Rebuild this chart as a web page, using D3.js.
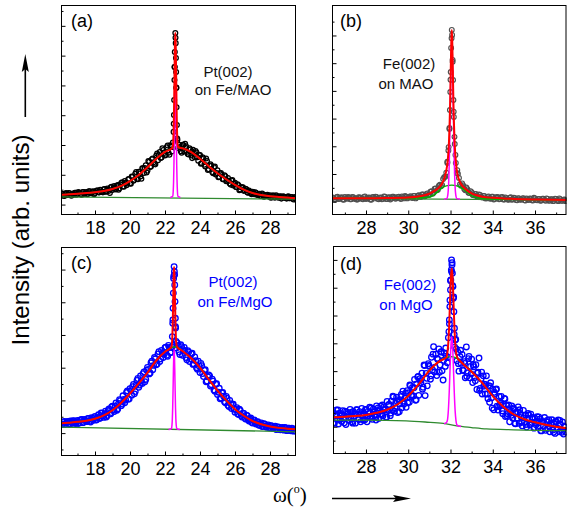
<!DOCTYPE html>
<html>
<head>
<meta charset="utf-8">
<script src="https://cdn.jsdelivr.net/npm/d3@7"></script>
<style>
  body { margin: 0; background: #fff; }
  svg { display: block; }
</style>
</head>
<body>
<script>
'use strict';

var SANS = '"Liberation Sans", Arial, Helvetica, sans-serif';
var SERIF = '"Liberation Serif", "Times New Roman", serif';

// ---- (a) Pt(002) on Fe/MAO : two interleaved scans, step 0.1
var scanStartA = 16.1, scanStepA = 0.1;
var countsA = [36,30,36,32,39,33,36,33,40,36,
  40,34,42,36,42,36,45,38,45,39,
  47,41,50,42,51,43,54,46,58,49,
  62,51,66,55,72,61,79,65,85,71,
  94,80,103,86,110,94,122,106,132,114,
  144,128,155,137,165,149,176,158,183,165,
  192,174,199,178,271,560,222,201,179,201,
  178,196,170,189,165,184,159,175,147,166,
  139,155,128,146,119,135,109,125,101,115,
  93,106,85,98,78,89,71,81,64,73,
  58,65,51,58,46,53,41,47,38,43,
  35,40,32,36,29,34,28,32,27,31,
  25,30,24,28,23,28,23,26,22,26,
  21,25,20,24,20];
var scanStartA2 = 16.15, scanStepA2 = 0.1;
var countsA2 = [35,29,39,33,38,30,36,40,33,42,
  35,33,42,39,35,45,39,43,35,45,
  47,41,45,41,52,44,50,39,60,55,
  52,63,50,67,75,60,73,71,86,70,
  93,83,109,85,104,87,122,123,108,146,
  126,152,142,135,171,166,156,189,173,167,
  198,167,194,208,462,393,190,193,174,200,
  204,177,168,185,156,174,180,159,166,137,
  159,134,155,116,131,130,105,128,106,92,
  105,99,85,95,79,80,67,82,70,59,
  68,48,58,58,48,51,40,43,35,41,
  41,33,35,29,37,26,31,33,28,23,
  30,24,31,25,27,20,28,25,20,28,
  21,25,17,25];
var peakOmegaA = [22.49,22.511,22.524,22.539,22.548,22.56,22.59,22.612,22.625,22.636,22.647,22.662,22.68,22.707];
var peakCountsA = [244,301,351,418,462,512,576,542,492,445,391,327,267,217];
var fitTotalA = [[16.1,33],[16.5,34.5],[17,36.5],[17.5,38.5],[18,41.5],[18.5,45.5],[19,52.5],[19.5,63],[20,79],[20.5,99],[21,125],[21.5,154],[22,177],[22.4,189],[22.44,194],[22.47,212],[22.49,243],[22.51,298],[22.53,378],[22.55,470],[22.57,546],[22.59,576],[22.61,546],[22.63,470],[22.65,378],[22.67,298],[22.69,243],[22.71,212],[22.74,195],[22.8,191.5],[23,189],[23.5,176],[24,154],[24.5,129],[25,105],[25.5,85],[26,66],[26.5,50],[27,39],[27.5,32],[28,28],[28.5,25.5],[29,23.5],[29.5,21.5]];
var fitBroadA = [[16.1,33],[16.5,34.5],[17,36.5],[17.5,38.5],[18,41.5],[18.5,45.5],[19,52.5],[19.5,63],[20,79],[20.5,99],[21,125],[21.5,154],[22,177],[22.3,186.5],[22.6,192],[22.8,191.5],[23,189],[23.5,176],[24,154],[24.5,129],[25,105],[25.5,85],[26,66],[26.5,50],[27,39],[27.5,32],[28,28],[28.5,25.5],[29,23.5],[29.5,21.5]];
var fitNarrowA = [[22.3,24],[22.44,28],[22.47,45],[22.49,76],[22.51,131],[22.53,211],[22.55,303],[22.57,378],[22.59,408],[22.61,378],[22.63,303],[22.65,211],[22.67,131],[22.69,76],[22.71,45],[22.74,28],[22.88,24]];
var baselineA = [[16.06,26],[29.5,18]];

// ---- (b) Fe(002) on MAO : two interleaved scans, step 0.1
var scanStartB = 26.4, scanStepB = 0.1;
var countsB = [15,9,16,10,14,8,17,11,15,9,
  16,12,8,15,11,17,10,14,8,16,
  12,17,9,15,11,18,10,16,12,18,
  11,17,13,19,12,18,14,20,13,21,
  15,23,17,26,20,30,25,38,32,48,
  43,61,60,88,105,185,440,505,208,104,
  86,58,59,41,45,31,34,23,28,18,
  24,15,21,12,19,11,18,10,17,9,
  16,8,15,8,14,7,14,6,13,7,
  12,5,12,6,11,4,12,5,10,4,
  11,3,10,4,9,3,10,2,9,3,
  8,4];
var scanStartB2 = 26.45, scanStepB2 = 0.1;
var countsB2 = [14,8,18,11,16,7,13,17,9,17,
  11,8,16,14,9,19,12,15,7,17,
  18,11,14,9,19,10,15,8,18,15,
  13,18,10,17,21,12,17,15,21,12,
  22,18,26,20,27,24,36,29,47,41,
  58,56,82,90,144,262,590,325,140,101,
  63,66,46,51,32,38,24,28,19,26,
  17,21,12,17,12,18,8,15,16,10,
  17,8,12,7,16,9,13,5,12,8,
  13,4,10,12,5,14,6,10,3,11,
  6,12,3,9,2,11,5,12,3,7,
  2];
var peakOmegaB = [31.852,31.911,31.949,31.972,31.99,32.01,32.03,32.06,32.075,32.10,32.119,32.137,32.156,32.187,32.233,32.32];
var peakCountsB = [140,197,266,331,396,468,555,620,602,512,439,367,306,234,169,114];
var fitTotalB = [[26.39,12.5],[28,12.5],[29,13.5],[30,15.5],[30.4,18],[30.8,24],[31,29],[31.2,37],[31.4,48],[31.5,55],[31.6,66],[31.7,82],[31.8,112],[31.86,144],[31.9,178],[31.93,222],[31.96,290],[31.98,350],[32,430],[32.02,515],[32.04,585],[32.06,620],[32.08,585],[32.1,515],[32.12,430],[32.14,350],[32.16,290],[32.19,222],[32.22,178],[32.26,140],[32.3,110],[32.4,80],[32.5,64],[32.6,54],[32.8,40],[33,30],[33.2,24],[33.5,18],[34,14],[34.5,11.5],[35,10],[36,8],[37.5,6]];
var fitBroadB = [[26.39,12.3],[30,13],[30.5,14],[31,17],[31.2,24],[31.4,36],[31.6,50],[31.8,57],[32.06,60],[32.3,57],[32.5,50],[32.7,40],[32.9,27],[33.1,18],[33.4,13],[34,10],[35,8.5],[37.5,6]];
var fitNarrowB = [[31.7,9],[31.82,11],[31.86,19],[31.88,30],[31.9,50],[31.92,85],[31.94,138],[31.96,211],[31.98,300],[32,397],[32.02,485],[32.04,546],[32.06,569],[32.08,546],[32.1,485],[32.12,397],[32.14,300],[32.16,211],[32.18,138],[32.2,85],[32.22,50],[32.24,30],[32.26,19],[32.3,11],[32.45,9]];
var baselineB = [[26.39,12.3],[37.5,6]];

// ---- (c) Pt(002) on Fe/MgO : two interleaved scans, step 0.1
var scanStartC = 16.1, scanStepC = 0.1;
var countsC = [26,34,26,34,28,37,30,37,29,39,
  32,41,32,42,35,45,36,47,39,51,
  41,56,46,61,48,67,54,74,59,82,
  66,92,74,102,84,114,93,124,104,136,
  116,149,127,161,140,175,152,187,164,201,
  181,215,194,231,209,242,219,253,231,261,
  238,268,246,263,480,325,276,248,270,238,
  262,231,252,219,242,210,233,200,220,185,
  206,173,194,159,178,144,165,132,150,118,
  137,107,124,96,112,85,100,75,88,64,
  78,57,69,49,60,43,53,37,46,31,
  40,28,35,24,31,21,27,18,25,16,
  22,14,21,12,18,10,17,9,16,8,
  15,7,13,7,13];
var scanStartC2 = 16.15, scanStepC2 = 0.1;
var countsC2 = [27,36,30,36,26,35,38,31,35,29,
  39,42,33,39,36,45,34,45,47,40,
  48,45,62,52,59,49,69,60,80,70,
  83,70,91,99,89,103,101,129,104,130,
  142,120,147,167,147,160,182,157,192,195,
  184,220,207,227,211,249,227,244,241,263,
  235,262,247,346,484,260,268,240,264,251,
  253,224,248,227,244,211,221,195,205,213,
  182,192,157,172,175,148,159,128,151,125,
  105,123,113,93,106,81,90,88,73,72,
  59,73,54,61,48,55,41,43,33,39,
  31,34,25,29,20,29,21,23,16,23,
  15,20,11,19,11,16,11,17,8,15,
  9,15,6,12];
var peakOmegaC = [22.419,22.442,22.46,22.476,22.492,22.52,22.537,22.556,22.573,22.592,22.605,22.636];
var peakCountsC = [295,336,382,428,473,509,494,453,402,351,321,280];
var fitTotalC = [[16.1,30],[16.5,32],[17,34.5],[17.5,38],[18,44],[18.5,54],[19,70],[19.5,93],[20,121],[20.5,152],[21,185],[21.5,222],[22,249],[22.3,259.5],[22.37,264],[22.4,275.5],[22.42,295],[22.44,330],[22.46,381],[22.48,440],[22.5,489],[22.52,508],[22.54,489],[22.56,441],[22.58,382],[22.6,332],[22.62,297],[22.64,278],[22.67,266],[22.7,263],[23,251],[23.5,229],[24,200],[24.5,164],[25,130],[25.5,100],[26,73],[26.5,53],[27,37],[27.5,27],[28,20.5],[28.5,16],[29,13.5],[29.5,11.7]];
var fitBroadC = [[16.1,30],[16.5,32],[17,34.5],[17.5,38],[18,44],[18.5,54],[19,70],[19.5,93],[20,121],[20.5,152],[21,185],[21.5,222],[22,249],[22.3,259.5],[22.6,264],[22.8,260],[23,251],[23.5,229],[24,200],[24.5,164],[25,130],[25.5,100],[26,73],[26.5,53],[27,37],[27.5,27],[28,20.5],[28.5,16],[29,13.5],[29.5,11.7]];
var fitNarrowC = [[22.2,11],[22.37,14],[22.4,25],[22.42,44],[22.44,79],[22.46,130],[22.48,189],[22.5,237],[22.52,256],[22.54,237],[22.56,189],[22.58,130],[22.6,79],[22.62,44],[22.64,25],[22.67,14],[22.85,11]];
var baselineC = [[16.06,18],[29.5,4]];

// ---- (d) Fe(002) on MgO : scan step 0.05 plus an offset scan step 0.1
var scanStartD = 26.45, scanStepD = 0.05;
var countsD = [51,12,40,60,24,10,49,38,19,58,
  30,56,8,45,48,23,62,29,18,55,
  38,13,61,45,28,54,18,66,38,49,
  25,62,18,55,47,37,68,27,64,42,
  35,75,59,30,56,74,44,39,71,64,
  35,91,59,80,40,92,60,107,56,85,
  106,51,95,82,108,68,128,82,104,70,
  130,122,88,148,114,141,111,170,95,154,
  179,113,173,158,193,142,222,112,192,147,
  227,217,171,250,204,288,197,261,184,242,
  280,222,269,201,168,265,217,254,230,320,
  370,525,558,507,467,286,314,237,268,200,
  252,228,260,202,234,176,287,194,245,176,
  217,243,159,216,177,223,134,196,247,138,
  173,118,183,153,118,183,118,148,88,158,
  104,135,61,117,133,74,60,109,79,109,
  57,80,102,37,76,47,78,18,54,75,
  31,63,12,51,31,71,12,48,35,3,
  59,16,42,-1,29,42,7,45,16,29,
  -5,30,7,36,-4,15,28,-15,18,3,
  33,-13,17,-6,25,-18,9,25,-12,10,
  -24,17,-6,24,-18,9,-11,17,-26,-1,
  -19];
var scanStartD2 = 26.475, scanStepD2 = 0.1;
var countsD2 = [14,46,60,27,42,14,53,34,51,13,
  47,61,26,43,24,61,37,70,35,53,
  24,68,45,78,61,34,79,49,110,68,
  91,54,116,92,121,86,150,109,140,97,
  181,166,135,220,174,220,183,261,214,246,
  196,270,239,283,250,455,590,332,280,227,
  275,204,228,181,253,190,223,165,193,130,
  196,146,151,101,146,67,124,136,73,85,
  47,100,40,65,41,68,11,53,61,16,
  32,8,48,12,33,-3,20,35,-14,18,
  -6,23,2,14,-20,20,-6,23,-20,2];
var peakOmegaD = [31.925,31.947,31.97,32.0,32.015,32.04,32.05,32.07,32.09,32.118,32.137,32.16,32.188,32.215];
var peakCountsD = [342,384,432,492,528,564,600,582,552,504,462,414,354,312];
var fitTotalD = [[26.44,34],[27,36],[27.5,38.5],[28,42],[28.5,50],[29,61],[29.5,81],[30,111],[30.5,153],[31,202],[31.5,237],[31.8,249],[31.86,270],[31.9,305],[31.94,369],[31.98,456],[32.02,537],[32.06,570],[32.1,537],[32.14,456],[32.18,369],[32.22,305],[32.26,269],[32.31,250],[32.5,233],[33,198],[33.5,158],[34,110],[34.5,72],[35,44],[35.5,27],[36,16],[36.5,7],[37,0],[37.5,-5]];
var fitBroadD = [[26.44,34],[27,36],[27.5,38.5],[28,42],[28.5,50],[29,61],[29.5,81],[30,111],[30.5,153],[31,202],[31.5,237],[31.8,249],[32.06,252],[32.3,246],[32.5,233],[33,198],[33.5,158],[34,110],[34.5,72],[35,44],[35.5,27],[36,16],[36.5,7],[37,0],[37.5,-5]];
var fitNarrowD = [[31.7,11],[31.81,15],[31.86,26],[31.9,60],[31.94,124],[31.98,210],[32.02,291],[32.06,324],[32.1,291],[32.14,210],[32.18,122],[32.22,57],[32.26,22],[32.31,6],[32.5,1]];
var baselineD = [[26.44,24],[28,24],[29.9,21],[30.8,17],[31.66,12],[32.29,3],[33,-3],[33.7,-8],[35,-11],[37.5,-14]];

// tick values
var xMajorPt = [18,20,22,24,26,28], xMinorPt = [17,19,21,23,25,27,29];
var xMajorFe = [28,30,32,34,36], xMinorFe = [27,29,31,33,35,37];
var yMajorA = [0,100,200,300,400,500,600], yMinorA = [50,150,250,350,450,550,650];
var yMajorB = [0,100,200,300,400,500,600], yMinorB = [50,150,250,350,450,550,650];
var yMajorC = [0,100,200,300,400,500], yMinorC = [-50,50,150,250,350,450,550];
var yMajorD = [0,100,200,300,400,500,600], yMinorD = [-50,50,150,250,350,450,550];

var panels = [
  {id:'a', x0:61, x1:296, y0:5, y1:215, xDomain:[16.057,29.486], yDomain:[-35,670],
   scans:[[scanStartA,scanStepA,countsA],[scanStartA2,scanStepA2,countsA2]],
   peakOmega:peakOmegaA, peakCounts:peakCountsA,
   total:fitTotalA, broad:fitBroadA, narrow:fitNarrowA, base:baselineA,
   xMajor:xMajorPt, xMinor:xMinorPt, yMajor:yMajorA, yMinor:yMinorA,
   dot:'#000', r:2.4, dotW:1.25, textColor:'#111',
   label:{x:71, y:27}, notes:[{t:'Pt(002)', x:228, y:77}, {t:'on Fe/MAO', x:233, y:95}]},
  {id:'b', x0:332, x1:566.5, y0:5, y1:215, xDomain:[26.39,37.49], yDomain:[-48,710],
   scans:[[scanStartB,scanStepB,countsB],[scanStartB2,scanStepB2,countsB2]],
   peakOmega:peakOmegaB, peakCounts:peakCountsB,
   total:fitTotalB, broad:fitBroadB, narrow:fitNarrowB, base:baselineB,
   xMajor:xMajorFe, xMinor:xMinorFe, yMajor:yMajorB, yMinor:yMinorB,
   dot:'#505050', r:2.4, dotW:1.15, textColor:'#111',
   label:{x:340, y:27}, notes:[{t:'Fe(002)', x:409, y:68.5}, {t:'on MAO', x:406, y:88.5}]},
  {id:'c', x0:61, x1:296, y0:247, y1:456, xDomain:[16.057,29.486], yDomain:[-70,569],
   scans:[[scanStartC,scanStepC,countsC],[scanStartC2,scanStepC2,countsC2]],
   peakOmega:peakOmegaC, peakCounts:peakCountsC,
   total:fitTotalC, broad:fitBroadC, narrow:fitNarrowC, base:baselineC,
   xMajor:xMajorPt, xMinor:xMinorPt, yMajor:yMajorC, yMinor:yMinorC,
   dot:'#0000ff', r:2.8, dotW:1.3, textColor:'#0000ff',
   label:{x:71, y:269}, notes:[{t:'Pt(002)', x:233, y:287}, {t:'on Fe/MgO', x:235, y:306.5}]},
  {id:'d', x0:333, x1:566.5, y0:246, y1:454, xDomain:[26.44,37.49], yDomain:[-98,650],
   scans:[[scanStartD,scanStepD,countsD],[scanStartD2,scanStepD2,countsD2]],
   peakOmega:peakOmegaD, peakCounts:peakCountsD,
   total:fitTotalD, broad:fitBroadD, narrow:fitNarrowD, base:baselineD,
   xMajor:xMajorFe, xMinor:xMinorFe, yMajor:yMajorD, yMinor:yMinorD,
   dot:'#0000ff', r:2.8, dotW:1.3, textColor:'#0000ff',
   label:{x:340, y:270}, notes:[{t:'Fe(002)', x:410, y:290}, {t:'on MgO', x:406, y:310}]}
];

var svg = d3.select('body').append('svg')
  .attr('width', 572)
  .attr('height', 508);

svg.append('rect').attr('width', 572).attr('height', 508).attr('fill', '#fff');

panels.forEach(drawPanel);
drawTitles();

function drawPanel(p) {
  var x = d3.scaleLinear().domain(p.xDomain).range([p.x0, p.x1]);
  var y = d3.scaleLinear().domain(p.yDomain).range([p.y1, p.y0]);

  svg.append('clipPath').attr('id', 'clip-' + p.id)
    .append('rect')
    .attr('x', p.x0).attr('y', p.y0)
    .attr('width', p.x1 - p.x0).attr('height', p.y1 - p.y0);

  var plot = svg.append('g').attr('clip-path', 'url(#clip-' + p.id + ')');

  var pts = [];
  p.scans.forEach(function(s) {
    s[2].forEach(function(v, i) { pts.push([s[0] + i * s[1], v]); });
  });
  pts = pts.concat(d3.zip(p.peakOmega, p.peakCounts));

  plot.selectAll('circle').data(pts).enter().append('circle')
    .attr('cx', function(d) { return x(d[0]); })
    .attr('cy', function(d) { return y(d[1]); })
    .attr('r', p.r)
    .attr('fill', 'none')
    .attr('stroke', p.dot)
    .attr('stroke-width', p.dotW);

  var line = d3.line()
    .x(function(d) { return x(d[0]); })
    .y(function(d) { return y(d[1]); })
    .curve(d3.curveMonotoneX);

  plot.append('path').datum(p.base)
    .attr('d', line).attr('fill', 'none')
    .attr('stroke', '#2f8a2f').attr('stroke-width', 1.3);
  plot.append('path').datum(p.broad)
    .attr('d', line).attr('fill', 'none')
    .attr('stroke', '#00b000').attr('stroke-width', 1.4);
  plot.append('path').datum(p.narrow)
    .attr('d', line).attr('fill', 'none')
    .attr('stroke', '#ff00ff').attr('stroke-width', 1.5);
  plot.append('path').datum(p.total)
    .attr('d', line).attr('fill', 'none')
    .attr('stroke', '#ff0000').attr('stroke-width', 2);

  // axes, ticks pointing inward
  var gxMinor = svg.append('g')
    .attr('transform', 'translate(0,' + p.y1 + ')')
    .call(d3.axisBottom(x).tickValues(p.xMinor).tickSize(-2.5).tickFormat(''));
  var gx = svg.append('g')
    .attr('transform', 'translate(0,' + p.y1 + ')')
    .call(d3.axisBottom(x).tickValues(p.xMajor).tickSize(-4.5).tickPadding(6).tickFormat(d3.format('d')));
  var gyMinor = svg.append('g')
    .attr('transform', 'translate(' + p.x0 + ',0)')
    .call(d3.axisLeft(y).tickValues(p.yMinor).tickSize(-2.5).tickFormat(''));
  var gyMajor = svg.append('g')
    .attr('transform', 'translate(' + p.x0 + ',0)')
    .call(d3.axisLeft(y).tickValues(p.yMajor).tickSize(-4.5).tickFormat(''));

  [gxMinor, gx, gyMinor, gyMajor].forEach(function(g) {
    g.select('.domain').remove();
    g.selectAll('line').attr('stroke', '#000').attr('stroke-width', 1);
  });
  gx.selectAll('text')
    .attr('font-family', SANS)
    .attr('font-size', 18)
    .attr('fill', '#000');

  svg.append('rect')
    .attr('x', p.x0 + 0.5).attr('y', p.y0 + 0.5)
    .attr('width', p.x1 - p.x0 - 1).attr('height', p.y1 - p.y0 - 1)
    .attr('fill', 'none')
    .attr('stroke', '#000')
    .attr('stroke-width', 1);

  svg.append('text')
    .attr('x', p.label.x).attr('y', p.label.y)
    .attr('font-family', SANS).attr('font-size', 18)
    .attr('fill', '#000')
    .text('(' + p.id + ')');

  svg.selectAll('.note-' + p.id).data(p.notes).enter().append('text')
    .attr('class', 'note-' + p.id)
    .attr('x', function(d) { return d.x; })
    .attr('y', function(d) { return d.y; })
    .attr('text-anchor', 'middle')
    .attr('font-family', SANS).attr('font-size', 15)
    .attr('fill', p.textColor)
    .text(function(d) { return d.t; });
}

function drawTitles() {
  svg.append('text')
    .attr('transform', 'translate(29,240) rotate(-90)')
    .attr('text-anchor', 'middle')
    .attr('font-family', SANS).attr('font-size', 24)
    .attr('fill', '#000')
    .text('Intensity (arb. units)');

  // vertical arrow
  svg.append('line')
    .attr('x1', 25.3).attr('x2', 25.3).attr('y1', 117).attr('y2', 68)
    .attr('stroke', '#000').attr('stroke-width', 1.6);
  svg.append('path')
    .attr('d', 'M25.3,54 L21.8,72 L25.3,69 L28.8,72 Z')
    .attr('fill', '#000');

  var t = svg.append('text')
    .attr('x', 273).attr('y', 502)
    .attr('font-family', SERIF).attr('font-size', 21)
    .attr('fill', '#000');
  t.append('tspan').text('\u03c9(');
  t.append('tspan').attr('font-size', 12).attr('dy', -9).text('o');
  t.append('tspan').attr('dy', 9).text(')');

  // horizontal arrow
  svg.append('line')
    .attr('x1', 332).attr('x2', 398).attr('y1', 498.5).attr('y2', 498.5)
    .attr('stroke', '#000').attr('stroke-width', 1.6);
  svg.append('path')
    .attr('d', 'M411,498.5 L393,495 L396,498.5 L393,502 Z')
    .attr('fill', '#000');
}
</script>
</body>
</html>
